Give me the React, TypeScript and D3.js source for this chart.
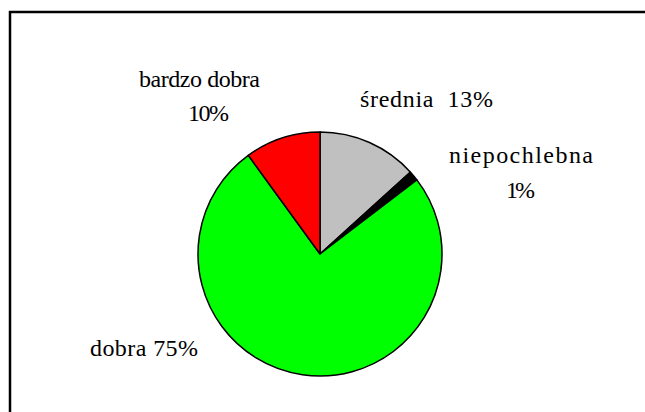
import React from "react";
import * as d3 from "d3";

const categories = ["średnia", "niepochlebna", "dobra", "bardzo dobra"];
const values = [13.3, 1.3, 75.4, 10.0];
const percentLabels = ["13%", "1%", "75%", "10%"];
const colors = ["#c0c0c0", "#000000", "#00ff00", "#ff0000"];

// label layout: text lines with centre x, baseline y and rendered width
const labelLayout = [
  { lines: [`${categories[0]}  ${percentLabels[0]}`], x: [426.5], y: [107], w: [133] },
  { lines: [categories[1], percentLabels[1]], x: [521, 520.5], y: [163, 198], w: [144, 29] },
  { lines: [`${categories[2]} ${percentLabels[2]}`], x: [144], y: [356], w: [108] },
  { lines: [categories[3], percentLabels[3]], x: [199.5, 208.5], y: [87, 121], w: [121, 41] },
];

export default function App() {
  const width = 645;
  const height = 412;
  const cx = 320;
  const cy = 254;
  const r = 122;

  const pie = d3.pie<number>().sort(null).value((d) => d).startAngle(0).endAngle(2 * Math.PI);
  const arcs = pie(values);
  const arc = d3.arc<d3.PieArcDatum<number>>().innerRadius(0).outerRadius(r);

  return (
    <svg width={width} height={height} style={{ position: "absolute", left: 0, top: 0, display: "block", background: "#fff" }}>
      <rect x={10} y={12} width={700} height={500} fill="#fff" stroke="#000" strokeWidth={2.5} />
      <g transform={`translate(${cx},${cy})`}>
        {arcs.map((a, i) => (
          <path key={i} d={arc(a) || ""} fill={colors[i]} stroke="#000" strokeWidth={1.5} strokeLinejoin="round" />
        ))}
      </g>
      {labelLayout.map((l, i) =>
        l.lines.map((t, j) => (
          <text
            key={`${i}-${j}`}
            x={l.x[j]}
            y={l.y[j]}
            textAnchor="middle"
            fill="#000"
            fontFamily="Liberation Serif"
            fontSize={24}
            textLength={l.w[j]}
            lengthAdjust="spacing"
            style={{ whiteSpace: "pre" }}
          >
            {t}
          </text>
        ))
      )}
    </svg>
  );
}
